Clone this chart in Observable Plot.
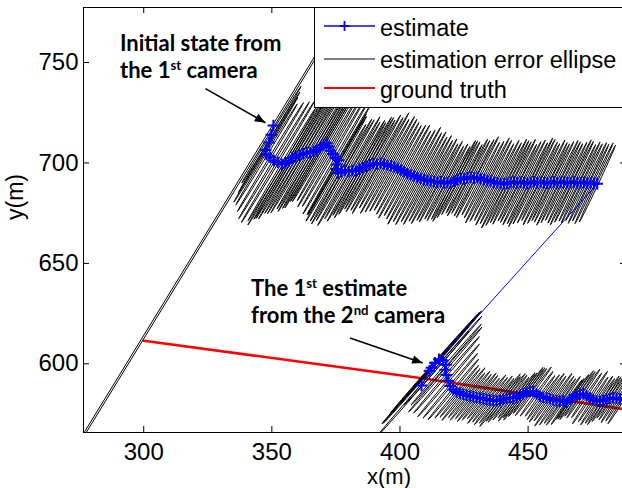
<!DOCTYPE html>
<html><head><meta charset="utf-8">
<script src="https://cdn.jsdelivr.net/npm/d3@7"></script>
<script src="https://cdn.jsdelivr.net/npm/@observablehq/plot@0.6"></script>
<style>
html,body{margin:0;padding:0;background:#fff;overflow:hidden;}
#wrap{position:relative;width:626px;height:488px;overflow:hidden;}
.note{position:absolute;font-family:Lato,"Open Sans",sans-serif;font-weight:700;font-size:22px;line-height:26.6px;color:#000;white-space:nowrap;}
.note sup{font-size:0.6em;line-height:0;vertical-align:0.62em;}
#legend{position:absolute;left:314px;top:7px;width:330px;height:99px;border:1px solid #000;background:#fff;}
</style></head><body><div id="wrap"></div>
<script>
// ---- axes ----
const xTicks = [300, 350, 400, 450];
const yTicks = [600, 650, 700, 750];
const xDomain = [276.5, 488.4];
const yDomain = [565.8, 777.4];

// ---- estimate, 1st camera ----
const est1X = [350.6,349.8,348.9,347.6,347.9,349.4,350.8,352.3,353.9,355.2, 356.6,357.9,359.3,360.8,362.2,363.6,365.0,366.3,367.6,368.9, 370.2,371.4,372.3,372.9,373.8,374.9,376.0,375.4,375.1,375.8, 377.2,378.6,380.0,381.4,382.8,384.1,385.5,386.8,388.2,389.6, 391.0,392.4,393.8,395.1,396.5,397.8,399.1,400.4,401.6,402.9, 404.2,405.5,406.8,408.1,409.4,410.7,412.0,413.3,414.6,415.9, 417.2,418.5,419.8,421.1,422.4,423.7,425.0,426.3,427.6,428.9, 430.2,431.5,432.8,434.1,435.4,436.7,438.0,439.3,440.6,441.9, 443.2,444.5,445.8,447.1,448.4,449.7,451.0,452.3,453.6,454.9, 456.2,457.5,458.8,460.1,461.4,462.7,464.0,465.3,466.6,467.9, 469.2,470.5,471.8,473.1,474.4,475.7,477.0];
const est1Y = [718.6,714.0,710.2,706.5,704.2,702.8,701.2,700.4,699.3,700.1, 701.0,702.4,703.1,703.9,704.6,705.2,705.1,705.8,706.4,707.6, 708.9,709.8,708.2,706.1,704.4,702.6,701.3,699.2,697.0,695.0, 695.6,696.3,695.8,696.2,696.0,696.9,697.6,698.4,699.1,699.7, 699.4,699.8,699.5,698.9,698.6,698.0,697.4,696.5,695.6,694.8, 694.1,693.5,692.8,692.3,691.7,691.4,691.0,690.8,690.4,690.6, 690.1,690.3,690.0,690.9,691.8,692.3,692.0,692.6,692.9,692.5, 692.8,692.1,691.6,691.2,691.0,690.4,690.1,689.8,689.6,689.9, 690.3,690.5,690.1,690.4,690.2,689.8,690.3,690.6,690.1,690.4, 690.2,689.9,690.3,690.5,690.0,690.3,690.4,690.1,690.2,690.5, 690.0,690.2,690.3,689.9,690.1,689.8,689.6];
// error ellipse half extent (in y units) for each estimate
const err1 = [1000, 24,25,26,25,27, 29,30,28,31,29,30,31,29,30,30,28,30,29,30,28,29,27,28,26,28, 27,25,26,24,26,25,27,24,25,23,25,24,22,24,23,25,22,24,23,22, 21,22,23,21,22,24,22,23,21,22, 20,21,19,20,18,19,18,20,19,18, 17,19,18,19,20,18,19,21,20,19, 21,20,22,21,20,21,19,20,21,20, 22,21,20,19,21,20,19,20,21,20, 19,20,21,20,19,20,19,20,19,20, 19];
const cam1 = [940, 1945];

// ---- estimate, 2nd camera ----
const est2X = [412.3,408.4,411.5,413.6,415.2,416.8,418.0,417.6,418.1,418.9, 419.6,420.8,422.1,423.4,424.7,426.0,427.3,428.6,429.9,431.2, 432.5,433.8,435.1,436.4,437.7,439.0,440.3,441.6,442.9,444.2, 445.5,446.8,448.1,449.4,450.7,452.0,453.3,454.6,455.9,457.2, 458.5,459.8,461.1,462.4,463.7,465.0,466.3,467.6,468.9,470.2, 471.5,472.8,474.1,475.4,476.7,478.0,479.3,480.6,481.9,483.2, 484.5,485.8,487.1];
const est2Y = [598.1,589.2,596.5,600.5,602.3,601.6,599.5,597.0,594.4,591.6, 589.0,587.2,586.0,585.4,584.8,584.3,584.0,583.6,583.2,583.0, 582.6,582.3,582.0,581.7,581.5,581.8,582.4,582.9,583.1,583.0, 583.4,584.2,585.0,585.8,586.4,586.2,585.0,583.9,583.3,583.0, 582.6,582.0,581.6,581.4,581.5,580.8,582.4,583.4,584.3,584.9, 585.1,584.2,583.1,582.2,581.6,581.4,581.7,582.3,582.9,583.1, 582.8,582.5,582.2];
const err2 = [28,27,26,25, 21,22,20,21,19,18,16,15, 13,12,13,11,12,11,12,11,10,12, 11,12,11,13,11,12,11,10,12,11, 13,12,11,12,11,10,11,12,11,13, 12,11,12,11,10,11,12,11,12,11, 13,11,12,11,12,11,10,11,12,11, 12];
const cam2 = [699, 1013];

// ---- ground truth ----
const truthX = [300, 410, 487];
const truthY = [611.5, 592.6, 577.5];

// ---- annotation arrows ----
const arrowX1 = [324.1, 380.5];
const arrowY1 = [737.0, 612.9];
const arrowX2 = [347.5, 408.9];
const arrowY2 = [720.0, 600.4];

// ---- layout ----
const W = 626, H = 488, mL = 83, mR = 0, mT = 7, mB = 56;
const kx = (W - mL - mR) / (xDomain[1] - xDomain[0]);
const ky = (H - mT - mB) / (yDomain[1] - yDomain[0]);
const minorPx = 0.9;

function ellipse(id, cx, cy, halfY, cam) {
  let dx = (cam[0] - cx) * kx, dy = -(cam[1] - cy) * ky;
  const n = Math.hypot(dx, dy); dx /= n; dy /= n;
  const a = halfY * ky / Math.abs(dy);
  const pts = [], N = 60;
  for (let k = 0; k <= N; k++) {
    const t = 2 * Math.PI * k / N;
    const u = a * Math.cos(t), v = minorPx * Math.sin(t);
    const px = u * dx - v * dy, py = u * dy + v * dx;
    pts.push({id, x: cx + px / kx, y: cy - py / ky});
  }
  return pts;
}
const ellipses = [];
est1X.forEach((x, i) => ellipses.push(...ellipse("a" + i, x, est1Y[i], err1[i], cam1)));
est2X.forEach((x, i) => ellipses.push(...ellipse("b" + i, x, est2Y[i], err2[i], cam2)));

const estimate = est1X.map((x, i) => ({x, y: est1Y[i]})).concat(est2X.map((x, i) => ({x, y: est2Y[i]})));
const truth = truthX.map((x, i) => ({x, y: truthY[i]}));
const arrows = arrowX1.map((x, i) => {
  const x2 = arrowX2[i], y2 = arrowY2[i], y1 = arrowY1[i];
  return {x1: x, y1, x2, y2, ang: Math.atan2(-(y2 - y1) * ky, (x2 - x) * kx) * 180 / Math.PI};
});
const headSymbol = {draw(ctx, size) {
  const L = Math.sqrt(size) * 1.0;
  ctx.moveTo(0, 0); ctx.lineTo(-L, -L * 0.4); ctx.lineTo(-L, L * 0.4); ctx.closePath();
}};

const innerW = W - mL - mR, innerH = H - mT - mB;
const chart = Plot.plot({
  width: W, height: H, marginLeft: mL, marginRight: mR, marginTop: mT, marginBottom: mB,
  x: {domain: xDomain}, y: {domain: yDomain},
  style: {fontFamily: "'Liberation Sans', Arial, sans-serif", background: "white", color: "black"},
  marks: [
    Plot.line(truth, {x: "x", y: "y", stroke: "#ff0000", strokeWidth: 2.6, clip: true}),
    Plot.line(ellipses, {x: "x", y: "y", z: "id", stroke: "#000", strokeWidth: 1.0, clip: true}),
    Plot.line(estimate, {x: "x", y: "y", stroke: "#0000ff", strokeWidth: 1, clip: true}),
    Plot.dot(estimate, {x: "x", y: "y", symbol: "plus", r: 3.8, stroke: "#0000ff", strokeWidth: 2, clip: true}),
    Plot.link(arrows, {x1: "x1", y1: "y1", x2: "x2", y2: "y2", stroke: "#000", strokeWidth: 1.6}),
    Plot.dot(arrows, {x: "x2", y: "y2", symbol: headSymbol, r: 6, fill: "#000", stroke: "none", rotate: "ang"}),
    Plot.frame({stroke: "#000", strokeWidth: 1}),
    Plot.ruleX(xTicks, {insetTop: innerH - 6, stroke: "#000"}),
    Plot.ruleX(xTicks, {insetBottom: innerH - 6, stroke: "#000"}),
    Plot.ruleY(yTicks, {insetRight: innerW - 6, stroke: "#000"}),
    Plot.ruleY(yTicks, {insetLeft: innerW - 6, stroke: "#000"}),
    Plot.axisX({ticks: xTicks, tickSize: 0, tickPadding: 10, fontSize: 24, label: null}),
    Plot.axisY({ticks: yTicks, tickSize: 0, tickPadding: 5, fontSize: 24, label: null}),
    Plot.text(["x(m)"], {frameAnchor: "bottom", dx: 34, dy: 44, fontSize: 22, lineAnchor: "middle"}),
    Plot.text(["y(m)"], {frameAnchor: "left", dx: -68, dy: 0, fontSize: 23, rotate: -90, lineAnchor: "middle"})
  ]
});
const wrap = document.getElementById("wrap");
wrap.appendChild(chart);

// legend
const lg = document.createElement("div");
lg.id = "legend";
lg.innerHTML = `<svg width="330" height="99" style="font-family:'Liberation Sans',Arial,sans-serif;font-size:23.5px">
  <line x1="9" x2="60" y1="18" y2="18" stroke="#0000ff" stroke-width="1.6"/>
  <path d="M29.5,13v10M24.5,18h10" stroke="#0000ff" stroke-width="1.8"/>
  <text x="65" y="28">estimate</text>
  <line x1="9" x2="60" y1="51" y2="51" stroke="#000" stroke-width="1"/>
  <text x="65" y="59.7">estimation error ellipse</text>
  <line x1="9" x2="60" y1="80" y2="80" stroke="#ff0000" stroke-width="2"/>
  <text x="65" y="89.7">ground truth</text>
</svg>`;
wrap.appendChild(lg);

// annotations
const n1 = document.createElement("div");
n1.className = "note"; n1.style.left = "120px"; n1.style.top = "30px";
n1.innerHTML = "Initial state from<br>the 1<sup>st</sup> camera";
wrap.appendChild(n1);
const n2 = document.createElement("div");
n2.className = "note"; n2.style.left = "251px"; n2.style.top = "275px";
n2.innerHTML = "The 1<sup>st</sup> estimate<br>from the 2<sup>nd</sup> camera";
wrap.appendChild(n2);
</script></body></html>
